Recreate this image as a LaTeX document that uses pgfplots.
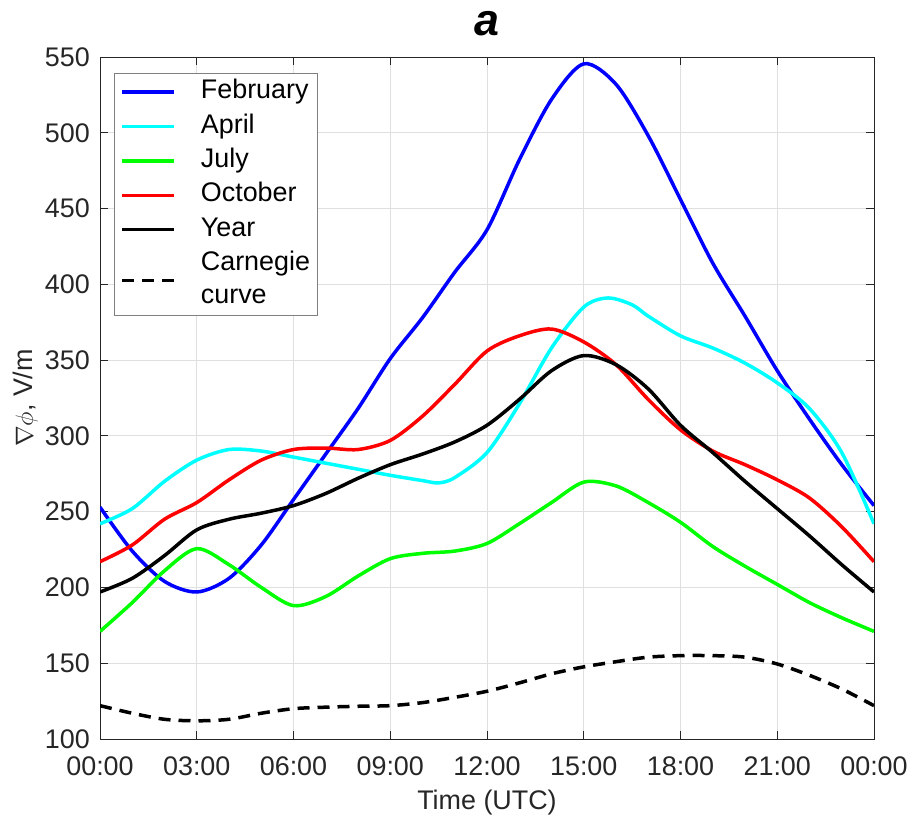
\documentclass[border=0pt]{standalone}
\usepackage{pgfplots}
\pgfplotsset{compat=1.18}
\usepackage{fontspec}
\setmainfont{Liberation Sans}
\definecolor{axc}{HTML}{262626}
\definecolor{gridc}{HTML}{DFDFDF}
\definecolor{mblue}{RGB}{0,0,255}
\definecolor{mcyan}{RGB}{0,255,255}
\definecolor{mgreen}{RGB}{0,255,0}
\definecolor{mred}{RGB}{255,0,0}
\newcommand{\ls}{\rule[-9.9bp]{0pt}{33bp}}
\begin{document}
\begin{tikzpicture}
\useasboundingbox (0,0) rectangle (912bp,818bp);
\begin{axis}[
  at={(100bp,79bp)}, anchor=south west,
  scale only axis, width=774bp, height=682bp,
  xmin=0, xmax=24, ymin=100, ymax=550,
  xtick={0,3,...,24},
  xticklabels={00:00,03:00,06:00,09:00,12:00,15:00,18:00,21:00,00:00},
  ytick={100,150,...,550},
  /pgf/number format/assume math mode=true,
  tick align=inside, major tick length=8bp,
  tick style={axc, line width=0.8bp},
  axis line style={axc, line width=0.8bp},
  grid=major, grid style={gridc, line width=0.8bp},
  tick label style={font=\fontsize{27}{33}\selectfont, text=axc},
  yticklabel style={anchor=east, inner sep=0pt, xshift=-10bp},
  xticklabel style={anchor=north, inner sep=0pt, yshift=-18bp},
  xlabel={Time (UTC)},
  xlabel style={at={(axis description cs:0.5,0)}, anchor=north, inner sep=0pt, yshift=-51bp, font=\fontsize{27}{33}\selectfont, text=axc},
  ylabel={$\nabla\phi$, V/m},
  ylabel style={at={(axis description cs:-0.0866,0.5)}, anchor=base, inner sep=0pt, font=\fontsize{27}{33}\selectfont, text=axc},
  title={a},
  title style={at={(axis description cs:0.5,1)}, anchor=base, inner sep=0pt, yshift=16bp, font=\fontsize{45}{54}\selectfont\bfseries\itshape},
  legend cell align=left,
  legend image code/.code={\draw[#1] (0bp,0bp) -- (52bp,0bp);},
  legend style={at={(axis description cs:0.0181,0.9765)}, anchor=north west,
    draw=black!50, line width=0.8bp, fill=white,
    inner xsep=6bp, inner ysep=1.5bp, column sep=24bp,
    font=\fontsize{27}{33}\selectfont,
    nodes={inner xsep=1bp, inner ysep=0.7bp, text depth={}, text height={}}},
  every axis plot/.append style={line width=3.5bp, smooth, no markers},
]
\addplot[mblue] coordinates {
(0,253) (1,224) (2,204) (3,197) (4,206) (5,228) (6,258) (7,288) (8,318) (9,351)
(10,378) (11,408) (12,436) (13,482) (14,522) (15,545.5) (16,532) (17,498)
(18,456) (19,414) (20,379) (21,343) (22,311) (23,281) (24,254)};
\addlegendentry{\ls February}
\addplot[mcyan] coordinates {
(0,242) (1,252) (2,270) (3,284) (4,291) (5,290) (6,286) (7,282) (8,278) (9,274)
(10,270.5) (10.5,269) (11,272.5) (12,289) (13,321) (14,358) (15,385) (15.75,391) (16.5,386.5)
(17,379) (18,366) (19,358) (20,348) (21,335) (22,318) (23,289) (24,242)};
\addlegendentry{\ls April}
\addplot[mgreen] coordinates {
(0,171) (1,190) (2,211) (3,225.6) (4,215) (5,200) (6,188) (7,194) (8,207.5) (9,219)
(10,222.5) (11,224) (12,229) (13,242) (14,256) (15,269.5) (16,267) (17,256)
(18,243) (19,227) (20,214) (21,202) (22,190) (23,180) (24,171)};
\addlegendentry{\ls July}
\addplot[mred] coordinates {
(0,217) (1,228) (2,245) (3,256) (4,271) (5,284) (6,291) (7,292) (8,291) (9,297)
(10,313) (11,334) (12,356) (13,366) (14,370.5) (15,362) (16,347) (17,324)
(18,304) (19,290) (20,281) (21,271) (22,259) (23,240) (24,217)};
\addlegendentry{\ls October}
\addplot[black] coordinates {
(0,197) (1,206) (2,221) (3,238) (4,245) (5,249) (6,254) (7,262) (8,272) (9,281)
(10,288) (11,296) (12,307) (13,324) (14,343) (15,353) (16,347) (17,331)
(18,307) (19,289) (20,270) (21,252) (22,234) (23,215) (24,197)};
\addlegendentry{\ls Year}
\addplot[black, dash pattern=on 12bp off 8bp] coordinates {
(0,122) (1,117) (2,113) (3,112) (4,113) (5,117) (6,120) (7,121) (8,121.6) (9,122)
(10,124) (11,127.5) (12,131.5) (13,137) (14,143) (15,147.6) (16,151) (17,154)
(18,155) (19,155) (20,154) (21,149.5) (22,142) (23,133) (24,122)};
\addlegendentry{\begin{tabular}{@{}l@{}}Carnegie\\curve\end{tabular}}
\end{axis}
\end{tikzpicture}
\end{document}
